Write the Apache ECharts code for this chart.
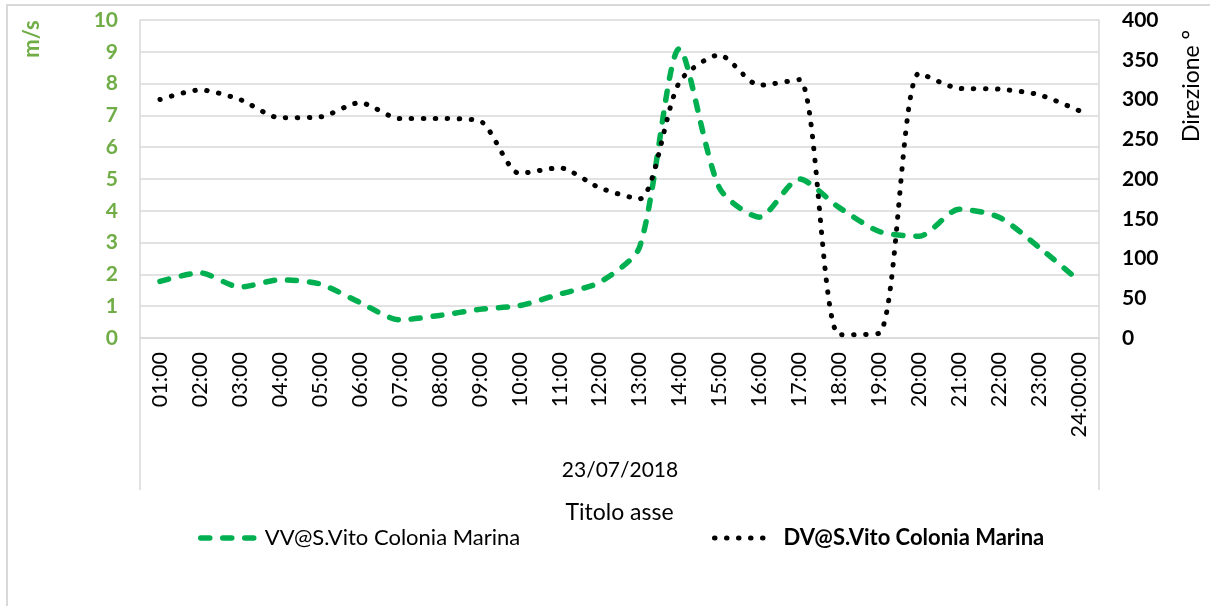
<!DOCTYPE html>
<html>
<head>
<meta charset="utf-8">
<script src="https://cdn.jsdelivr.net/npm/echarts@6/dist/echarts.min.js"></script>
<style>
  html, body { margin: 0; padding: 0; background: #fff; }
  #main { width: 1210px; height: 606px; }
</style>
</head>
<body>
<div id="main"></div>
<script>
// categories (hours of 23/07/2018)
var hours = ['01:00', '02:00', '03:00', '04:00', '05:00', '06:00', '07:00', '08:00',
  '09:00', '10:00', '11:00', '12:00', '13:00', '14:00', '15:00', '16:00',
  '17:00', '18:00', '19:00', '20:00', '21:00', '22:00', '23:00', '24:00:00'];

// wind speed m/s
var vv = [1.78, 2.05, 1.6, 1.83, 1.7, 1.12, 0.57, 0.71, 0.9, 1.02, 1.38, 1.75,
  2.85, 9.1, 4.72, 3.8, 5.0, 4.1, 3.35, 3.2, 4.05, 3.8, 2.85, 1.8];

// wind direction degrees
var dv = [300, 312, 300, 277, 278, 296, 276, 276, 273, 207, 214, 189,
  175, 322, 356, 318, 325, 4, 6, 333, 314, 313, 306, 286];

var vvName = 'VV@S.Vito Colonia Marina';
var dvName = 'DV@S.Vito Colonia Marina';
var dateLabel = '23/07/2018';

var green = '#00B050';
var labelGreen = '#70AD47';
var gridGrey = '#d9d9d9';
var font = 'Lato, "Open Sans", sans-serif';
var noSymbol = { color: 'rgba(0,0,0,0)', borderWidth: 0 };

var myChart = echarts.init(document.getElementById('main'));
myChart.setOption({
  animation: false,
  backgroundColor: '#fff',
  textStyle: { fontFamily: font },
  grid: { left: 140, right: 111, top: 20, bottom: 268 },
  legend: [{
    data: [vvName],
    left: 193, top: 522,
    itemWidth: 55, itemHeight: 12, itemGap: 10,
    itemStyle: noSymbol,
    lineStyle: { width: 5.5 },
    textStyle: { fontSize: 22, color: '#000', fontFamily: font, padding: [0, 0, 0, 4] }
  }, {
    data: [dvName],
    left: 707, top: 522,
    itemWidth: 60, itemHeight: 12, itemGap: 10,
    itemStyle: noSymbol,
    lineStyle: { width: 5 },
    textStyle: { fontSize: 22, color: '#000', fontWeight: 'bold', fontFamily: font, padding: [0, 0, 0, 4] }
  }],
  xAxis: {
    type: 'category',
    data: hours,
    boundaryGap: true,
    name: 'Titolo asse',
    nameLocation: 'middle',
    nameGap: 163,
    nameTextStyle: { fontSize: 23, color: '#000' },
    axisLine: { lineStyle: { color: gridGrey, width: 1.5 } },
    axisTick: { show: false },
    axisLabel: { rotate: 90, fontSize: 21.5, color: '#000', margin: 14, interval: 0 }
  },
  yAxis: [{
    type: 'value',
    min: 0, max: 10, interval: 1,
    axisLine: { show: true, lineStyle: { color: gridGrey, width: 1.5 } },
    axisTick: { show: false },
    axisLabel: { fontSize: 21, fontWeight: 'bold', color: labelGreen, margin: 22 },
    splitLine: { lineStyle: { color: gridGrey, width: 1.5 } }
  }, {
    type: 'value',
    min: 0, max: 400, interval: 50,
    position: 'right',
    axisLine: { show: true, lineStyle: { color: gridGrey, width: 1.5 } },
    axisTick: { show: false },
    axisLabel: { fontSize: 21, fontWeight: 'bold', color: '#000', margin: 23 },
    splitLine: { show: false }
  }],
  series: [{
    name: vvName,
    type: 'line',
    data: vv,
    yAxisIndex: 0,
    smooth: 0.25,
    symbol: 'none',
    itemStyle: { color: green },
    lineStyle: { color: green, width: 5.5, type: [9, 13], cap: 'round' }
  }, {
    name: dvName,
    type: 'line',
    data: dv,
    yAxisIndex: 1,
    smooth: 0.25,
    symbol: 'none',
    itemStyle: { color: '#000' },
    lineStyle: { color: '#000', width: 5, type: [0.5, 11.5], cap: 'round' }
  }],
  graphic: [
    { type: 'rect', shape: { x: 7, y: 5, width: 1400, height: 800 },
      style: { fill: 'none', stroke: gridGrey, lineWidth: 2 }, silent: true },
    { type: 'line', shape: { x1: 140, y1: 338, x2: 140, y2: 490 },
      style: { stroke: gridGrey, lineWidth: 1.5 } },
    { type: 'line', shape: { x1: 1099, y1: 338, x2: 1099, y2: 490 },
      style: { stroke: gridGrey, lineWidth: 1.5 } },
    { type: 'text', x: 32, y: 39, rotation: Math.PI / 2,
      style: { text: 'm/s', fontSize: 22, fontWeight: 'bold', fill: labelGreen,
        fontFamily: font, textAlign: 'center', textVerticalAlign: 'middle' } },
    { type: 'text', x: 1192, y: 86, rotation: Math.PI / 2,
      style: { text: 'Direzione °', fontSize: 23, fill: '#000',
        fontFamily: font, textAlign: 'center', textVerticalAlign: 'middle' } },
    { type: 'text', x: 620, y: 470,
      style: { text: dateLabel, fontSize: 21, fill: '#000',
        fontFamily: font, textAlign: 'center', textVerticalAlign: 'middle' } }
  ]
});
</script>
</body>
</html>
